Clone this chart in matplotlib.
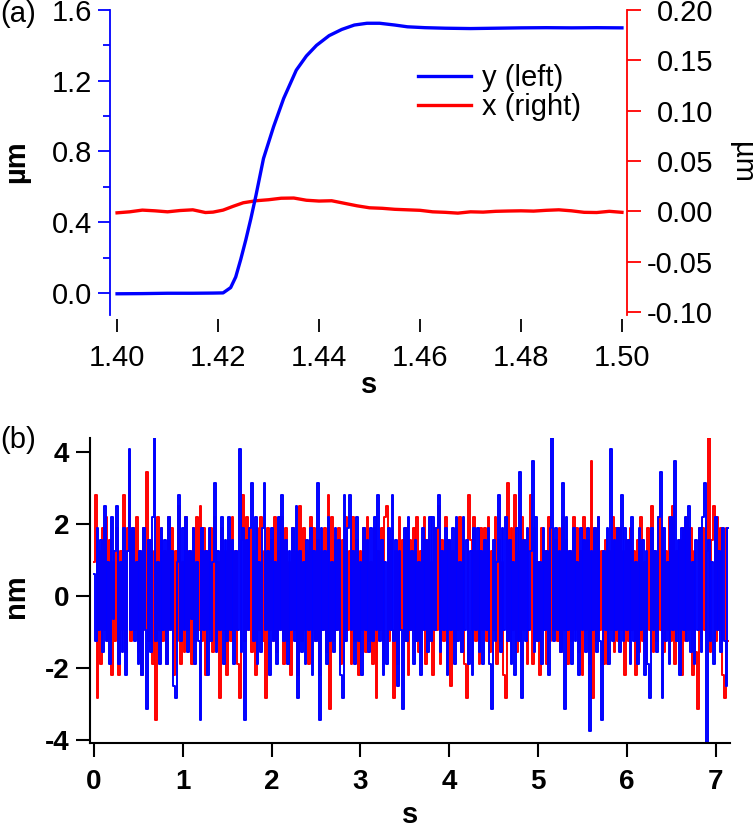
import numpy as np
import matplotlib
matplotlib.use("Agg")
import matplotlib.pyplot as plt
import matplotlib.ticker as mticker

plt.rcParams["font.family"] = ["Liberation Sans", "DejaVu Sans"]
plt.rcParams["axes.unicode_minus"] = False

BLUE = "#0000ff"
RED = "#ff0000"
W, H = 756, 830
FS = 21

# ---- panel (a): step response, y on left axis, x on right axis (um) ----
t_y = [1.400, 1.405, 1.410, 1.415, 1.419, 1.421, 1.4225, 1.4235, 1.4245, 1.4255,
       1.4265, 1.4275, 1.429, 1.431, 1.433, 1.4355, 1.4375, 1.4395, 1.442, 1.4445,
       1.447, 1.4495, 1.452, 1.455, 1.4575, 1.461, 1.465, 1.470, 1.475, 1.480,
       1.485, 1.490, 1.495, 1.500]
y_um = [-0.005, -0.004, -0.002, -0.002, -0.001, 0.000, 0.03, 0.09, 0.19, 0.30,
        0.42, 0.55, 0.76, 0.94, 1.10, 1.26, 1.34, 1.40, 1.455, 1.49,
        1.515, 1.525, 1.525, 1.515, 1.505, 1.500, 1.497, 1.495, 1.497, 1.499,
        1.500, 1.499, 1.500, 1.499]

t_x = [1.400, 1.4025, 1.405, 1.4075, 1.410, 1.4125, 1.415, 1.4175, 1.419, 1.421,
       1.423, 1.425, 1.4275, 1.430, 1.4325, 1.435, 1.4375, 1.440, 1.4425, 1.445,
       1.4475, 1.450, 1.4525, 1.455, 1.4575, 1.460, 1.4625, 1.465, 1.4675, 1.470,
       1.4725, 1.475, 1.4775, 1.480, 1.4825, 1.485, 1.4875, 1.490, 1.4925, 1.495,
       1.4975, 1.500]
x_um = [-0.0015, -0.0005, 0.0012, 0.0005, -0.0005, 0.0008, 0.0015, -0.0012, -0.0008, 0.0012,
        0.0050, 0.0085, 0.0105, 0.0115, 0.0130, 0.0132, 0.0110, 0.0102, 0.0105, 0.0080,
        0.0055, 0.0035, 0.0030, 0.0020, 0.0015, 0.0010, -0.0005, -0.0010, -0.0018, -0.0005,
        -0.0008, 0.0000, 0.0003, 0.0005, 0.0002, 0.0010, 0.0015, 0.0005, -0.0010, -0.0012,
        0.0000, -0.0010]

# ---- panel (b): position noise, quantised in steps of 0.3125 nm ----
Q_NM = 0.3125
DT_B = 0.02  # s per sample
noise_x_lvl = [  # red
    3, 9, -9, 4, -6, 6, -3, 7, -4, 5, -7, 3, -4, 6, -7, 4, -3, 9, -5, 6,
    12, -4, 6, -3, 7, -5, 4, -7, 6, -3, 11, -4, 5, -6, 4, -11, 7, -3, 6, -4,
    4, -6, 7, -3, 6, -7, 4, -4, 8, -6, 3, -5, 7, -3, 4, -6, 6, -4, 7, -3,
    8, -4, 6, -7, 4, -3, 6, -5, 7, -4, 3, -9, 6, -3, 4, -7, 5, -4, 7, -3,
    4, -6, -9, 5, 9, -4, 7, -3, 6, -5, 4, -7, 6, -3, 7, -4, 4, -9, 6, -3,
    5, -4, 7, -5, 4, -3, 7, -6, 6, -4, 3, -7, 6, -3, 4, -7, 8, -4, 6, -3,
    4, -6, 7, -3, 6, -4, 5, -7, 4, -3, 6, -5, 9, -10, 7, -4, 5, -3, 6, -6,
    5, -4, 7, -3, 4, -6, 7, -4, 5, -7, 4, -3, 6, -5, 7, -4, 3, -6, 6, -9,
    4, -3, 6, -6, 7, 8, -4, 5, -3, -9, 4, -6, 7, -3, 5, -4, 6, -7, 5, -3,
    6, -4, 7, -5, 4, -3, 7, -6, 5, -4, 3, -7, 6, -3, 8, -6, 5, -4, 7, -3,
    5, -8, 4, -4, 6, -3, 7, -5, 4, -6, -9, 9, 5, -3, 7, -4, 4, -6, 6, -3,
    6, -4, 7, -5, 4, -3, 7, -6, 5, -4, 3, -7, -9, 10, -4, 6, -3, 9, -5, 4,
    -4, 7, -3, 5, -6, 4, 9, -6, 6, -4, 3, -7, 6, -3, 4, -6, 7, -4, 6, -3,
    5, -4, 6, -5, 7, -3, 5, -6, 4, -4, 7, -3, 6, -5, 4, -7, 7, -3, 5, -6,
    12, -9, 6, -4, 7, -3, 4, -6, 5, -6, 4, -3, 7, -5, 6, -4, 6, -3, 4, -7,
    5, -4, 6, -3, 4, -7, 5, -5, 7, -4, 3, -6, 6, -3, 8, -5, 4, -4, 7, -3,
    6, -5, 4, -3, 7, -4, 8, -6, 4, -3, 5, -7, 6, -4, 7, -3, 6, -7, 4, -5,
    -10, 6, -4, 6, -3, 4, 14, -5, 5, 8, -4, 7, -3, 6, -7, -9, 6, -4,
]
noise_y_lvl = [  # blue
    2, -4, 6, -3, 5, -5, 8, -4, 3, -6, 7, -2, 4, 8, -6, 3, -5, 6, -7, 4,
    13, -3, 6, -4, 3, -6, 4, -7, 6, -3, -10, 5, -5, 7, 14, -4, 3, -6, 6, -3,
    5, -6, 7, -3, 4, -8, -9, 3, 9, -4, 6, -3, 7, -5, 4, -2, 6, -6, 3, -4,
    -11, 6, -3, 4, -7, 6, -4, 3, 10, -5, 4, -3, 7, -6, 5, -4, 7, -3, 5, -6,
    4, -3, 13, -5, 6, -11, 5, -3, 6, 10, -4, 7, -6, 3, -5, 6, 10, -3, 4, -7,
    6, -4, 3, -6, 7, -3, 9, -4, 5, -6, 4, -3, 6, -4, 8, -9, 4, -5, 3, -6,
    5, -3, 6, -7, 4, -4, 10, -11, 6, -3, 4, -6, 7, -4, 3, -5, 6, -3, 5, -7,
    -9, 9, -4, 6, 9, -3, 4, -6, 7, -4, 3, -7, 6, -3, 5, -5, 6, -4, 7, -3,
    9, -4, 5, -7, 3, -6, 6, -3, 9, -4, 5, -8, 4, -3, -10, 6, -4, 7, -3, 4,
    -6, 5, -4, 3, -7, 6, -3, 5, -5, 7, -4, 7, -3, 6, 9, -5, 4, -3, 6, -7,
    5, -3, 6, -6, 7, -4, 3, -5, 7, -3, 5, -6, 4, -7, 6, -3, 6, -5, 4, -6,
    5, -3, 6, -6, -10, 5, -4, 3, 9, -5, 6, -3, 7, -4, 5, -6, 3, -7, 6, -4,
    11, -9, 5, -4, 6, -3, 4, 12, -5, 7, -4, 3, -6, 6, -3, 4, -7, 6, 14, -4,
    6, -3, 4, -5, 10, -10, 7, -3, 4, -6, 6, -4, 3, -7, 6, -3, 5, -5, 6, -12,
    4, -3, 6, -5, 7, -4, -11, 4, -3, 6, -6, 13, -4, 5, -3, 6, -5, 9, -4, 6,
    -3, 5, -6, 7, -4, 3, -6, 6, -3, 5, -7, 4, -6, -9, 6, -3, 4, -5, 7, 11,
    -9, 6, -4, 3, -6, 7, -3, 12, -4, 5, -7, 6, -3, 7, -4, 8, -5, 3, -6, 5,
    -3, 6, -5, 7, 10, -13, 5, -4, 3, -6, 7, -3, 4, -5, 6, -4, -8, 6,
]


def fx(px):
    return px / W


def fy(py):
    return 1 - py / H


fig = plt.figure(figsize=(W / 100, H / 100), dpi=100)

# ---------------- panel (a) ----------------
ax = fig.add_axes([fx(110), fy(315), (627 - 110) / W, (315 - 10) / H])
ax2 = ax.twinx()
ln_y, = ax.plot(t_y, y_um, color=BLUE, lw=2.4, label="y (left)")
ln_x, = ax2.plot(t_x, x_um, color=RED, lw=2.4, label="x (right)")
ax.set_zorder(ax2.get_zorder() + 1)
ax.patch.set_visible(False)

ax.set_xlim(1.3986, 1.501)
ax.set_ylim(-0.125, 1.6)
ax2.set_ylim(-0.103, 0.2)

for s in ["top", "right"]:
    ax.spines[s].set_visible(False)
ax.spines["bottom"].set_position(("outward", 3))
ax.spines["bottom"].set_visible(False)
ax.spines["left"].set_color(BLUE)
ax.spines["left"].set_linewidth(1.3)
for s in ["top", "left", "bottom"]:
    ax2.spines[s].set_visible(False)
ax2.spines["right"].set_color(RED)
ax2.spines["right"].set_linewidth(1.3)

ax.xaxis.set_major_locator(mticker.MultipleLocator(0.02))
ax.xaxis.set_major_formatter(mticker.FormatStrFormatter("%.2f"))
ax.yaxis.set_major_locator(mticker.MultipleLocator(0.4))
ax.yaxis.set_minor_locator(mticker.MultipleLocator(0.2))
ax.yaxis.set_major_formatter(mticker.FormatStrFormatter("%.1f"))
ax2.yaxis.set_major_locator(mticker.MultipleLocator(0.05))
ax2.yaxis.set_major_formatter(mticker.FormatStrFormatter("%.2f"))

ax.tick_params(axis="x", direction="out", length=9, width=1.3, pad=9,
               labelsize=FS, color="black")
ax.tick_params(axis="y", which="major", direction="out", length=9, width=1.3,
               pad=4, labelsize=FS, color=BLUE, labelcolor="black")
ax.tick_params(axis="y", which="minor", direction="out", length=5, width=1.3,
               color=BLUE)
ax2.tick_params(axis="y", direction="out", length=10, width=1.3, pad=52,
                labelsize=FS, color=RED, labelcolor="black")
for lbl in ax2.get_yticklabels():
    lbl.set_horizontalalignment("right")

ax.legend(handles=[ln_y, ln_x], loc="upper left",
          bbox_to_anchor=(fx(418), fy(64)), bbox_transform=fig.transFigure,
          frameon=False, fontsize=FS, handlelength=1.8, handletextpad=0.4,
          labelspacing=0.05, borderpad=0, borderaxespad=0)

fig.text(fx(16), fy(162), "µm", rotation=90, ha="center", va="center",
         fontsize=FS, fontweight="bold")
fig.text(fx(742), fy(162), "µm", rotation=270, ha="center", va="center",
         fontsize=FS)
fig.text(fx(369), fy(385), "s", ha="center", va="center",
         fontsize=FS, fontweight="bold")
fig.text(fx(18), fy(14), "(a)", ha="center", va="center", fontsize=FS)

# ---------------- panel (b) ----------------
axb = fig.add_axes([fx(90), fy(743), (730 - 90) / W, (743 - 438) / H])
tb_x = np.arange(len(noise_x_lvl)) * DT_B
tb_y = np.arange(len(noise_y_lvl)) * DT_B
axb.plot(tb_x, np.array(noise_x_lvl) * Q_NM, color=RED, lw=1.4,
         drawstyle="steps-mid")
axb.plot(tb_y, np.array(noise_y_lvl) * Q_NM, color=BLUE, lw=1.4,
         drawstyle="steps-mid")

axb.set_xlim(-0.045, 7.16)
axb.set_ylim(-4.07, 4.38)
for s in ["top", "right"]:
    axb.spines[s].set_visible(False)
for s in ["left", "bottom"]:
    axb.spines[s].set_linewidth(1.5)
axb.xaxis.set_major_locator(mticker.MultipleLocator(1))
axb.yaxis.set_major_locator(mticker.MultipleLocator(2))
axb.tick_params(axis="x", direction="out", length=10, width=1.5, pad=9,
                labelsize=FS - 1)
axb.tick_params(axis="y", direction="out", length=10, width=1.5, pad=5,
                labelsize=FS - 1)
for lbl in axb.get_xticklabels() + axb.get_yticklabels():
    lbl.set_fontweight("bold")

fig.text(fx(16), fy(596), "nm", rotation=90, ha="center", va="center",
         fontsize=FS, fontweight="bold")
fig.text(fx(410), fy(815), "s", ha="center", va="center",
         fontsize=FS, fontweight="bold")
fig.text(fx(18), fy(440), "(b)", ha="center", va="center", fontsize=FS)

fig.savefig("out.png", dpi=100)
